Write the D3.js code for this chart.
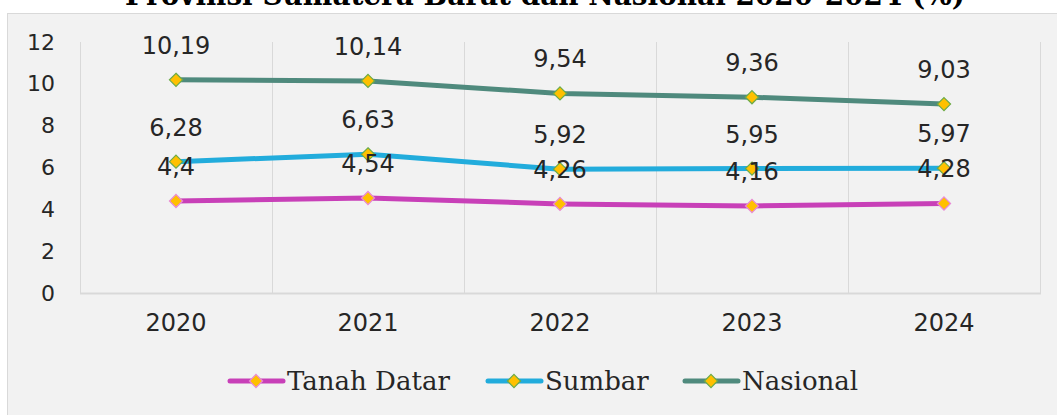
<!DOCTYPE html>
<html>
<head>
<meta charset="utf-8">
<script src="https://cdn.jsdelivr.net/npm/d3@7"></script>
<style>
    body { margin: 0; background: #fff; }
    svg { display: block; }
</style>
</head>
<body>
<svg id="chart"></svg>
<script>
    const years = ['2020', '2021', '2022', '2023', '2024'];
    const tanahDatar = [4.4, 4.54, 4.26, 4.16, 4.28];
    const sumbar = [6.28, 6.63, 5.92, 5.95, 5.97];
    const nasional = [10.19, 10.14, 9.54, 9.36, 9.03];
    const yTicks = [0, 2, 4, 6, 8, 10, 12];
    const seriesNames = ['Tanah Datar', 'Sumbar', 'Nasional'];

    (function () {
        const width = 1057, height = 415;
        const margin = {top: 42, left: 80, right: 17, bottom: 122};

        const series = [
            {name: seriesNames[0], values: tanahDatar, color: '#c840b8', mark: '#e88ad6'},
            {name: seriesNames[1], values: sumbar, color: '#22acdc', mark: '#6aab4a'},
            {name: seriesNames[2], values: nasional, color: '#4f8a7d', mark: '#6aab4a'}
        ];

        const svg = d3.select('#chart')
            .attr('width', width)
            .attr('height', height);

        // title, cut off at the top of the picture like in the source
        svg.append('text')
            .attr('x', 125)
            .attr('y', 5)
            .attr('textLength', 840)
            .attr('lengthAdjust', 'spacingAndGlyphs')
            .style('font-family', 'DejaVu Serif')
            .style('font-weight', 'bold')
            .style('font-size', '30px')
            .text('Provinsi Sumatera Barat dan Nasional 2020-2024 (%)');

        svg.append('rect')
            .attr('x', 7.5)
            .attr('y', 13.5)
            .attr('width', width)
            .attr('height', height)
            .attr('fill', '#f2f2f2')
            .attr('stroke', '#d9d9d9');

        const x = d3.scaleBand()
            .domain(years)
            .range([margin.left, width - margin.right]);

        const y = d3.scaleLinear()
            .domain([0, 12])
            .range([height - margin.bottom, margin.top]);

        const cx = d => x(d) + x.bandwidth() / 2;

        // vertical grid lines at category boundaries
        svg.append('g')
            .selectAll('line')
            .data(years)
            .enter()
            .append('line')
            .attr('x1', d => Math.round(x(d) + x.bandwidth()) + 0.5)
            .attr('x2', d => Math.round(x(d) + x.bandwidth()) + 0.5)
            .attr('y1', y(12))
            .attr('y2', y(0))
            .attr('stroke', '#d9d9d9');

        svg.append('line')
            .attr('x1', margin.left + 0.5).attr('x2', margin.left + 0.5)
            .attr('y1', y(12)).attr('y2', y(0))
            .attr('stroke', '#d9d9d9');

        svg.append('line')
            .attr('x1', margin.left).attr('x2', width - margin.right + 1)
            .attr('y1', y(0) + 0.5).attr('y2', y(0) + 0.5)
            .attr('stroke', '#d9d9d9')
            .attr('stroke-width', 2);

        const yAxis = d3.axisLeft(y)
            .tickValues(yTicks)
            .tickSize(0)
            .tickPadding(25);
        const gy = svg.append('g')
            .attr('transform', `translate(${margin.left},0)`)
            .call(yAxis);
        gy.select('.domain').remove();
        gy.selectAll('text')
            .style('font-family', 'DejaVu Sans')
            .style('font-size', '22px')
            .attr('fill', '#262626');

        const xAxis = d3.axisBottom(x).tickSize(0).tickPadding(21);
        const gx = svg.append('g')
            .attr('transform', `translate(0,${y(0)})`)
            .call(xAxis);
        gx.select('.domain').remove();
        gx.selectAll('text')
            .style('font-family', 'DejaVu Sans')
            .style('font-size', '24px')
            .attr('fill', '#262626');

        const line = d3.line()
            .x((d, i) => cx(years[i]))
            .y(d => y(d));

        const diamond = d3.symbol().type(d3.symbolDiamond2).size(110);

        series.forEach(s => {
            svg.append('path')
                .attr('d', line(s.values))
                .attr('fill', 'none')
                .attr('stroke', s.color)
                .attr('stroke-width', 5)
                .attr('stroke-linejoin', 'round');
        });

        series.forEach(s => {
            svg.append('g')
                .selectAll('path')
                .data(s.values)
                .enter()
                .append('path')
                .attr('d', diamond)
                .attr('transform', (d, i) => `translate(${cx(years[i])},${y(d)})`)
                .attr('fill', '#ffc000')
                .attr('stroke', s.mark)
                .attr('stroke-width', 1.2);
        });

        series.forEach(s => {
            svg.append('g')
                .selectAll('text')
                .data(s.values)
                .enter()
                .append('text')
                .attr('x', (d, i) => cx(years[i]))
                .attr('y', d => y(d) - 26)
                .attr('text-anchor', 'middle')
                .style('font-family', 'DejaVu Sans')
                .style('font-size', '24px')
                .attr('fill', '#262626')
                .text(d => String(d).replace('.', ','));
        });

        // legend
        const legendX = [228, 486, 683];
        const legendY = 381;
        const legend = svg.append('g');
        series.forEach((s, i) => {
            const g = legend.append('g')
                .attr('transform', `translate(${legendX[i]},${legendY})`);
            g.append('line')
                .attr('x1', 2).attr('x2', 55)
                .attr('stroke', s.color)
                .attr('stroke-width', 5)
                .attr('stroke-linecap', 'round');
            g.append('path')
                .attr('d', diamond)
                .attr('transform', 'translate(28,0)')
                .attr('fill', '#ffc000')
                .attr('stroke', s.mark)
                .attr('stroke-width', 1.2);
            g.append('text')
                .attr('x', 59)
                .attr('y', 9)
                .style('font-family', 'DejaVu Serif')
                .style('font-size', '26px')
                .attr('fill', '#262626')
                .text(s.name);
        });
    })();
</script>
</body>
</html>
